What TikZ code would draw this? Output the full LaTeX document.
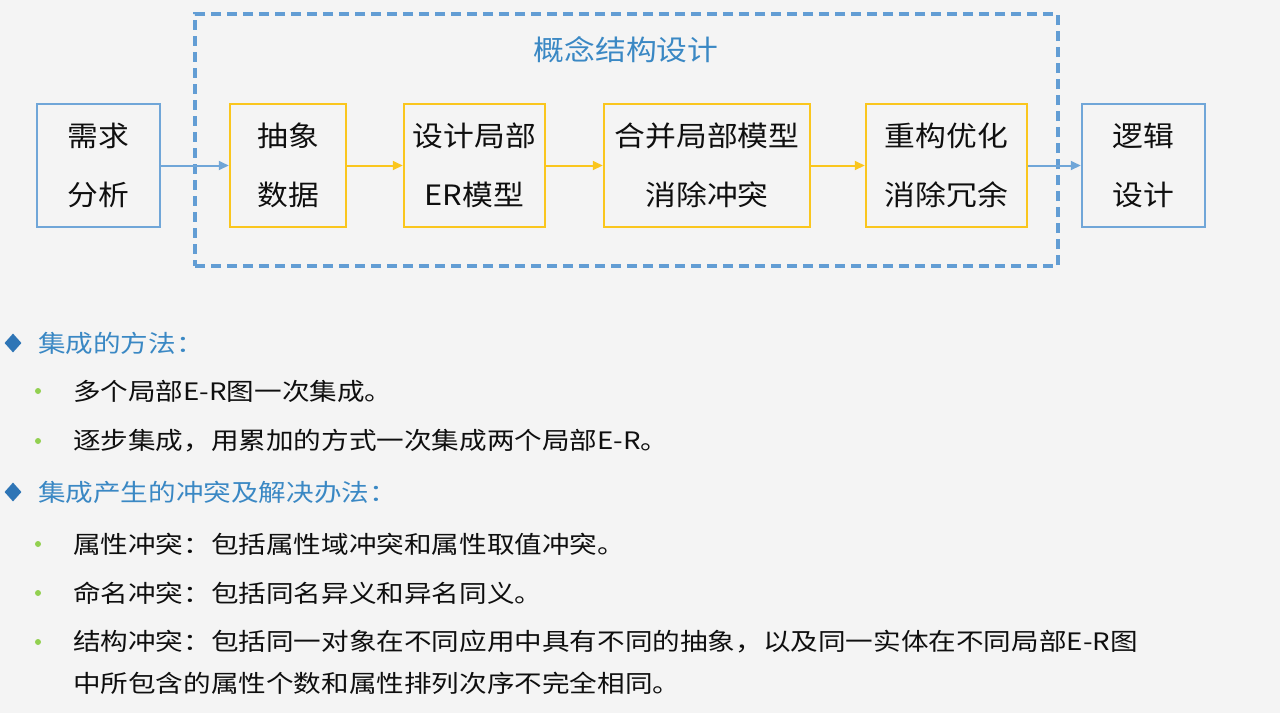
\documentclass[tikz,border=0pt]{standalone}
\usepackage{fontspec}
\setmainfont{Noto Sans CJK SC}[FakeStretch=1.15]
\newfontfamily\boxfont{Noto Sans CJK SC}[FakeStretch=1.1]
\usetikzlibrary{arrows.meta,shapes.geometric}
\definecolor{bg}{RGB}{244,244,244}
\definecolor{bbox}{RGB}{112,166,216}
\definecolor{ybox}{RGB}{250,198,30}
\definecolor{dashc}{RGB}{98,157,212}
\definecolor{titlec}{RGB}{58,136,196}
\definecolor{diac}{RGB}{46,117,182}
\definecolor{greenc}{RGB}{146,208,80}
\definecolor{txt}{RGB}{15,15,15}
\tikzset{
  stepbox/.style={draw, line width=2.5pt, minimum height=123pt, inner sep=0pt, align=center,
    text=txt, font=\boxfont\fontsize{28}{59}\selectfont},
  bluebox/.style={stepbox, draw=bbox},
  yellowbox/.style={stepbox, draw=ybox},
  barrow/.style={draw=bbox, line width=2pt, -{Triangle[length=10pt,width=9pt]}, fill=bbox},
  yarrow/.style={draw=ybox, line width=2pt, -{Triangle[length=10pt,width=9pt]}, fill=ybox},
  headtxt/.style={anchor=west, inner sep=0pt, text=titlec, font=\fontsize{24}{28}\selectfont},
  itemtxt/.style={anchor=west, inner sep=0pt, text=txt, font=\fontsize{24}{28}\selectfont},
  diam/.style={diamond, fill=diac, inner sep=0pt, minimum width=17pt, minimum height=19pt},
  gdot/.style={circle, fill=greenc, inner sep=0pt, minimum size=6pt},
}
\begin{document}
\begin{tikzpicture}[x=1pt,y=-1pt]
\useasboundingbox[fill=bg] (0,0) rectangle (1280,713);
% dashed frame
\node[draw=dashc, line width=3.5pt, dash pattern=on 10pt off 6pt, minimum width=863pt, minimum height=252pt, inner sep=0pt] (frame) at (626.5,140) {};
\node[text=titlec, font=\boxfont\fontsize{28}{30}\selectfont, inner sep=0pt] (title) at (626,50) {概念结构设计};
% boxes
\node[bluebox, minimum width=123pt] (req) at (98.5,165.5) {需求\\分析};
\node[yellowbox, minimum width=116pt] (abs) at (288,165.5) {抽象\\数据};
\node[yellowbox, minimum width=141pt] (loc) at (474.5,165.5) {设计局部\\ER模型};
\node[yellowbox, minimum width=206pt] (mer) at (707,165.5) {合并局部模型\\消除冲突};
\node[yellowbox, minimum width=161pt] (opt) at (946.5,165.5) {重构优化\\消除冗余};
\node[bluebox, minimum width=123pt] (log) at (1143.5,165.5) {逻辑\\设计};
\draw[barrow] (req) -- (abs);
\draw[yarrow] (abs) -- (loc);
\draw[yarrow] (loc) -- (mer);
\draw[yarrow] (mer) -- (opt);
\draw[barrow] (opt) -- (log);
% list
\node[diam] (d1) at (13,343) {};
\node[headtxt] (h1) at (38,343) {集成的方法：};
\node[gdot] (g1) at (38,391) {};
\node[itemtxt] (i1) at (73,391) {多个局部E-R图一次集成。};
\node[gdot] (g2) at (38,441) {};
\node[itemtxt] (i2) at (73,441) {逐步集成，用累加的方式一次集成两个局部E-R。};
\node[diam] (d2) at (13,492) {};
\node[headtxt] (h2) at (38,492) {集成产生的冲突及解决办法：};
\node[gdot] (g3) at (38,544) {};
\node[itemtxt] (i3) at (73,544) {属性冲突：包括属性域冲突和属性取值冲突。};
\node[gdot] (g4) at (38,593) {};
\node[itemtxt] (i4) at (73,593) {命名冲突：包括同名异义和异名同义。};
\node[gdot] (g5) at (38,642) {};
\node[itemtxt] (i5) at (73,642) {结构冲突：包括同一对象在不同应用中具有不同的抽象，以及同一实体在不同局部E-R图};
\node[itemtxt] (i6) at (73,683) {中所包含的属性个数和属性排列次序不完全相同。};
\end{tikzpicture}
\end{document}
